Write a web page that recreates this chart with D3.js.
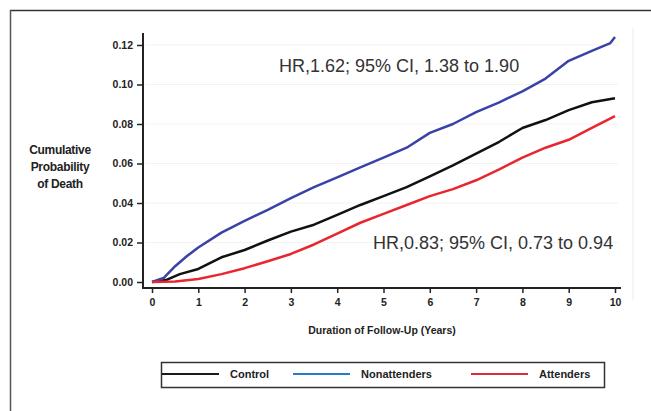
<!DOCTYPE html>
<html>
<head>
<meta charset="utf-8">
<script src="https://cdn.jsdelivr.net/npm/d3@7"></script>
<style>
  body { margin: 0; background: #fff; }
  svg { display: block; }
  .narrow { font-family: "Liberation Sans Narrow", "Arial Narrow", "Liberation Sans", Arial, sans-serif; font-weight: bold; }
  .ann { font-family: "Liberation Sans", Arial, sans-serif; fill: #333; }
</style>
</head>
<body>
<svg id="chart" width="651" height="411"></svg>
<script>
// curves: [years, cumulative probability]
var control = [[0,0],[0.3,0.001],[0.6,0.004],[1,0.0066],[1.5,0.0125],[2,0.0162],[2.5,0.021],[3,0.0255],
  [3.5,0.029],[4,0.034],[4.5,0.039],[5,0.0435],[5.5,0.048],[6,0.0535],[6.5,0.059],[7,0.065],
  [7.5,0.071],[8,0.078],[8.5,0.082],[9,0.087],[9.5,0.091],[10,0.093]];
var nonattenders = [[0,0],[0.25,0.002],[0.5,0.008],[0.75,0.013],[1,0.0175],[1.5,0.025],[2,0.031],[2.5,0.0365],[3,0.0425],
  [3.5,0.048],[4,0.053],[4.5,0.058],[5,0.063],[5.5,0.068],[6,0.0755],[6.5,0.08],[7,0.086],
  [7.5,0.091],[8,0.0965],[8.5,0.103],[9,0.112],[9.5,0.117],[9.9,0.121],[10,0.124]];
var attenders = [[0,0],[0.5,0.0003],[1,0.0015],[1.5,0.004],[2,0.007],[2.5,0.0105],[3,0.0142],[3.5,0.019],
  [4,0.0245],[4.5,0.03],[5,0.0345],[5.5,0.039],[6,0.0435],[6.5,0.047],[7,0.0515],[7.5,0.057],
  [8,0.063],[8.5,0.068],[9,0.072],[9.5,0.078],[10,0.084]];

var xTicks = [0,1,2,3,4,5,6,7,8,9,10];
var yTicks = [0,0.02,0.04,0.06,0.08,0.10,0.12];
var seriesNames = ["Control", "Nonattenders", "Attenders"];
var annotations = ["HR,1.62; 95% CI, 1.38 to 1.90", "HR,0.83; 95% CI, 0.73 to 0.94"];

var svg = d3.select("#chart");

var x = d3.scaleLinear().domain([0, 10]).range([152, 615]);
var y = d3.scaleLinear().domain([0, 0.12]).range([282, 45]);

// outer frame (top + left only)
svg.append("line").attr("x1", 10).attr("x2", 651).attr("y1", 10.5).attr("y2", 10.5)
  .attr("stroke", "#333").attr("stroke-width", 1.5);
svg.append("line").attr("x1", 10.5).attr("x2", 10.5).attr("y1", 10).attr("y2", 411)
  .attr("stroke", "#555").attr("stroke-width", 1.5);
svg.append("line").attr("x1", 633).attr("x2", 633).attr("y1", 28).attr("y2", 300)
  .attr("stroke", "#eef2f7").attr("stroke-width", 1.5);

// faint grid
svg.append("g").selectAll("line").data(yTicks.slice(1)).enter().append("line")
  .attr("x1", 145).attr("x2", 618)
  .attr("y1", function (d) { return y(d); }).attr("y2", function (d) { return y(d); })
  .attr("stroke", "#f2f2f2").attr("stroke-width", 1);

// axes
var yAxis = svg.append("g").attr("transform", "translate(143,0)")
  .call(d3.axisLeft(y).tickValues(yTicks).tickFormat(d3.format(".2f")).tickSize(6).tickPadding(4));
var xAxis = svg.append("g").attr("transform", "translate(0,288)")
  .call(d3.axisBottom(x).tickValues(xTicks).tickSize(5).tickPadding(6));
[xAxis, yAxis].forEach(function (g) {
  g.select(".domain").remove();
  g.selectAll(".tick line").attr("stroke", "#222").attr("stroke-width", 1.5);
  g.selectAll(".tick text").attr("class", "narrow").style("font-size", "10.5px").attr("fill", "#222");
});
svg.append("line").attr("x1", 143).attr("x2", 143).attr("y1", 33).attr("y2", 289)
  .attr("stroke", "#222").attr("stroke-width", 2);
svg.append("line").attr("x1", 142).attr("x2", 621).attr("y1", 288).attr("y2", 288)
  .attr("stroke", "#222").attr("stroke-width", 2);

// axis titles
var ytitle = svg.append("text").attr("class", "narrow").attr("text-anchor", "middle")
  .style("font-size", "12px").style("letter-spacing", "-0.3px").attr("fill", "#222");
["Cumulative", "Probability", "of Death"].forEach(function (t, i) {
  ytitle.append("tspan").attr("x", 60).attr("y", 154 + i * 17).text(t);
});
svg.append("text").attr("class", "narrow").attr("x", 382).attr("y", 334)
  .attr("text-anchor", "middle").style("font-size", "10.5px").attr("fill", "#222")
  .text("Duration of Follow-Up (Years)");

// curves
var line = d3.line()
  .x(function (d) { return x(d[0]); })
  .y(function (d) { return y(d[1]); });
var curveColors = ["#111111", "#3a42a6", "#e8262e"];
[control, nonattenders, attenders].forEach(function (s, i) {
  svg.append("path").datum(s).attr("d", line)
    .attr("fill", "none").attr("stroke", curveColors[i]).attr("stroke-width", 2.5)
    .attr("stroke-linejoin", "round");
});

// annotations
svg.append("text").attr("class", "ann").attr("x", 279).attr("y", 71.5)
  .style("font-size", "18px").text(annotations[0]);
svg.append("text").attr("class", "ann").attr("x", 373).attr("y", 248.5)
  .style("font-size", "18px").text(annotations[1]);

// legend
var legendColors = ["#1a1a1a", "#2a7dc4", "#d3303c"];
var legendLineX = [162, 293, 471];
svg.append("rect").attr("x", 161.5).attr("y", 362.5).attr("width", 443).attr("height", 25)
  .attr("fill", "none").attr("stroke", "#333").attr("stroke-width", 1.5);
seriesNames.forEach(function (n, i) {
  svg.append("line").attr("x1", legendLineX[i]).attr("x2", legendLineX[i] + 57)
    .attr("y1", 374).attr("y2", 374)
    .attr("stroke", legendColors[i]).attr("stroke-width", 2.2);
  svg.append("text").attr("class", "narrow").attr("x", legendLineX[i] + 68).attr("y", 378)
    .style("font-size", "11px").attr("fill", "#222").text(n);
});
</script>
</body>
</html>
